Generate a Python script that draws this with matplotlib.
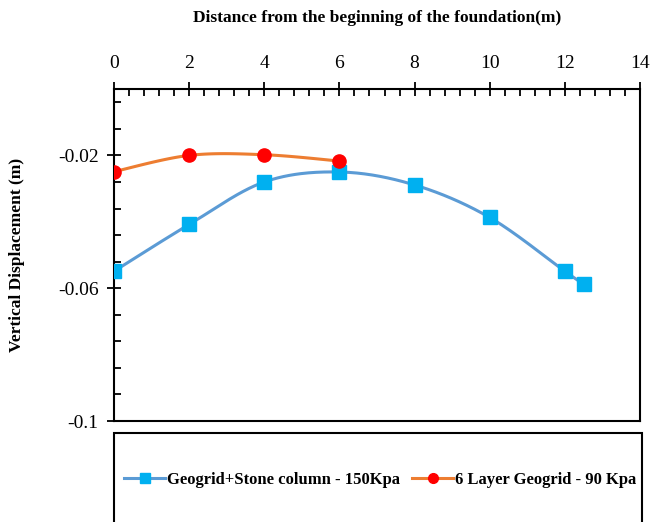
import numpy as np
import matplotlib
matplotlib.use("Agg")
import matplotlib.pyplot as plt
from matplotlib.patches import Rectangle
from matplotlib.lines import Line2D
from matplotlib.ticker import MultipleLocator, FixedLocator, FuncFormatter

# ---- data ----
x_stone = [0, 2, 4, 6, 8, 10, 12, 12.5]
y_stone = [-0.0549, -0.0408, -0.0280, -0.0250, -0.0289, -0.0387, -0.0549, -0.0588]
x_geo = [0, 2, 4, 6]
y_geo = [-0.0249, -0.0200, -0.0198, -0.0217]
labels = ["Geogrid+Stone column - 150Kpa", "6 Layer Geogrid - 90 Kpa"]
x_ticks = [0, 2, 4, 6, 8, 10, 12, 14]
y_ticks = [-0.1, -0.06, -0.02]

plt.rcParams['font.family'] = ['Liberation Serif', 'DejaVu Serif']


def smooth(xs, ys, n=40):
    """Excel-like smoothed line (Catmull-Rom style Bezier)."""
    P = np.column_stack([xs, ys]).astype(float)
    out = []
    m = len(P)
    for i in range(m - 1):
        p0 = P[i - 1] if i > 0 else P[i]
        p1 = P[i]
        p2 = P[i + 1]
        p3 = P[i + 2] if i + 2 < m else P[i + 1]
        c1 = p1 + (p2 - p0) / 6.0
        c2 = p2 - (p3 - p1) / 6.0
        t = np.linspace(0, 1, n)[:, None]
        seg = ((1 - t) ** 3) * p1 + 3 * ((1 - t) ** 2) * t * c1 + 3 * (1 - t) * t ** 2 * c2 + t ** 3 * p2
        out.append(seg if i == 0 else seg[1:])
    out = np.vstack(out)
    return out[:, 0], out[:, 1]


W, H = 651, 522
fig = plt.figure(figsize=(W / 100, H / 100), dpi=100)
L, R, T, B = 114, 640, 89, 421
ax = fig.add_axes([L / W, 1 - B / H, (R - L) / W, (B - T) / H])

blue_line = '#5B9BD5'
blue_mark = '#00B0F0'
orange_line = '#ED7D31'
red_mark = '#FF0000'

sx, sy = smooth(x_stone, y_stone)
ax.plot(sx, sy, color=blue_line, lw=2.2, zorder=2)
ax.plot(x_stone, y_stone, ls='none', marker='s', ms=10, color=blue_mark, zorder=3)
gx, gy = smooth(x_geo, y_geo)
ax.plot(gx, gy, color=orange_line, lw=2.2, zorder=2)
ax.plot(x_geo, y_geo, ls='none', marker='o', ms=9.5, color=red_mark, zorder=4)

ax.set_xlim(0, 14)
ax.set_ylim(-0.1, 0)
ax.xaxis.tick_top()
ax.xaxis.set_label_position('top')
ax.xaxis.set_major_locator(FixedLocator(x_ticks))
ax.xaxis.set_minor_locator(MultipleLocator(0.4))
ax.yaxis.set_major_locator(FixedLocator(y_ticks))
ax.yaxis.set_minor_locator(FixedLocator(list(np.arange(-0.1, 0.0001, 0.008))))
ax.yaxis.set_major_formatter(FuncFormatter(lambda v, p: ('%g' % round(v, 4))))

ax.tick_params(axis='both', which='major', direction='inout', length=10, width=1.3,
               labelsize=14, color='black')
ax.tick_params(axis='x', which='major', pad=7)
ax.tick_params(axis='y', which='major', pad=6)
ax.tick_params(axis='both', which='minor', direction='in', length=5, width=1.3, color='black')
ax.tick_params(axis='x', which='both', top=True, bottom=False)
ax.tick_params(axis='y', which='both', left=True, right=False)
for s in ax.spines.values():
    s.set_linewidth(1.5)
    s.set_color('black')

ax.set_xlabel("Distance from the beginning of the foundation(m)", fontsize=12.5,
              fontweight='bold')
ax.xaxis.set_label_coords(0.5, (B - 18) / (B - T))
ax.xaxis.label.set_va('center')
ax.set_ylabel("Vertical Displacement (m)", fontsize=12.5, fontweight='bold')
ax.yaxis.set_label_coords((17 - L) / (R - L), 0.5)
ax.yaxis.label.set_va('center')

# Legend box
fig.patches.append(Rectangle((114 / W, -0.01), (642 - 114) / W, 1 - 433 / H + 0.01,
                             transform=fig.transFigure, fill=False, edgecolor='black',
                             lw=1.5, clip_on=False))
handles = [Line2D([0], [0], color=blue_line, lw=2.2, marker='s', ms=7, markerfacecolor=blue_mark,
                  markeredgecolor=blue_mark),
           Line2D([0], [0], color=orange_line, lw=2.2, marker='o', ms=7, markerfacecolor=red_mark,
                  markeredgecolor=red_mark)]
leg = fig.legend(handles, labels, loc='center', bbox_to_anchor=(380 / W, 1 - 480 / H),
                 ncol=2, frameon=False, prop={'size': 12, 'weight': 'bold'},
                 handlelength=2.5, handletextpad=0.1, columnspacing=0.7)

fig.savefig('out.png', dpi=100)
